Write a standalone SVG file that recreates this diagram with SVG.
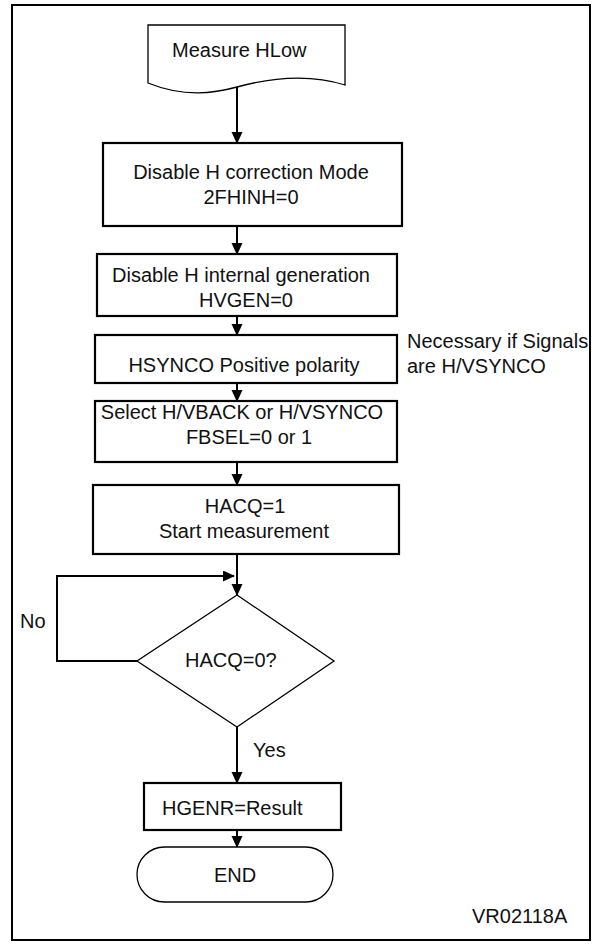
<svg xmlns="http://www.w3.org/2000/svg" width="597" height="944" viewBox="0 0 597 944">
<defs>
<marker id="ah" markerUnits="userSpaceOnUse" markerWidth="12" markerHeight="14" refX="11" refY="5.5" orient="auto">
<path d="M0,0 L12,5.5 L0,11 Z" fill="#000"/>
</marker>
<style>
text{font-family:"Liberation Sans",Arial,sans-serif;font-size:20px;fill:#111}
.m{text-anchor:middle}
.box{fill:#fff;stroke:#000;stroke-width:2.2}
.thin{fill:#fff;stroke:#000;stroke-width:1.3}
.c{fill:none;stroke:#000;stroke-width:2}
</style>
</defs>
<rect x="12" y="5" width="578" height="935" fill="#fff" stroke="#000" stroke-width="2"/>
<g id="connectors">
<line class="c" x1="237" y1="87" x2="237" y2="143" marker-end="url(#ah)"/>
<line class="c" x1="237" y1="226" x2="237" y2="254" marker-end="url(#ah)"/>
<line class="c" x1="237" y1="316" x2="237" y2="335" marker-end="url(#ah)"/>
<line class="c" x1="237" y1="383" x2="237" y2="401" marker-end="url(#ah)"/>
<line class="c" x1="237" y1="462" x2="237" y2="485" marker-end="url(#ah)"/>
<line class="c" x1="237" y1="554" x2="237" y2="595" marker-end="url(#ah)"/>
<path class="c" d="M137,661 H57 V576 H234" marker-end="url(#ah)"/>
<line class="c" x1="237" y1="727" x2="237" y2="783" marker-end="url(#ah)"/>
<line class="c" x1="237" y1="830" x2="237" y2="847" marker-end="url(#ah)"/>
<text x="20" y="628">No</text>
<text x="253" y="757">Yes</text>
</g>
<g id="start">
<path class="thin" d="M148,83 V25 H345 V85 C310,74 270,78 237,87 C215,93 185,98 148,83 Z"/>
<text x="172" y="57">Measure HLow</text>
</g>
<g id="disable-correction">
<rect class="box" x="103" y="143" width="299" height="83"/>
<text class="m" x="251" y="179">Disable H correction Mode</text>
<text class="m" x="251" y="204">2FHINH=0</text>
</g>
<g id="disable-generation">
<rect class="box" x="97" y="254" width="300" height="62"/>
<text class="m" x="241" y="282">Disable H internal generation</text>
<text class="m" x="246" y="307">HVGEN=0</text>
</g>
<g id="hsynco">
<rect class="box" x="95" y="335" width="302" height="48"/>
<text class="m" x="244" y="372">HSYNCO Positive polarity</text>
<text x="407" y="348">Necessary if Signals</text>
<text x="407" y="373">are H/VSYNCO</text>
</g>
<g id="select">
<rect class="box" x="95" y="401" width="302" height="61"/>
<text class="m" x="242" y="419">Select H/VBACK or H/VSYNCO</text>
<text class="m" x="249" y="444">FBSEL=0 or 1</text>
</g>
<g id="hacq1">
<rect class="box" x="93" y="485" width="306" height="69"/>
<text class="m" x="245" y="513">HACQ=1</text>
<text class="m" x="244" y="538">Start measurement</text>
</g>
<g id="decision">
<path class="thin" d="M237,595 L334,661 L237,727 L137,661 Z"/>
<text x="185" y="667">HACQ=0?</text>
</g>
<g id="result">
<rect class="box" x="144" y="783" width="197" height="47"/>
<text x="162" y="815">HGENR=Result</text>
</g>
<g id="end">
<rect class="thin" x="137" y="847" width="196" height="55" rx="27.5"/>
<text class="m" x="235" y="882">END</text>
</g>
<text x="472" y="923">VR02118A</text>
</svg>
